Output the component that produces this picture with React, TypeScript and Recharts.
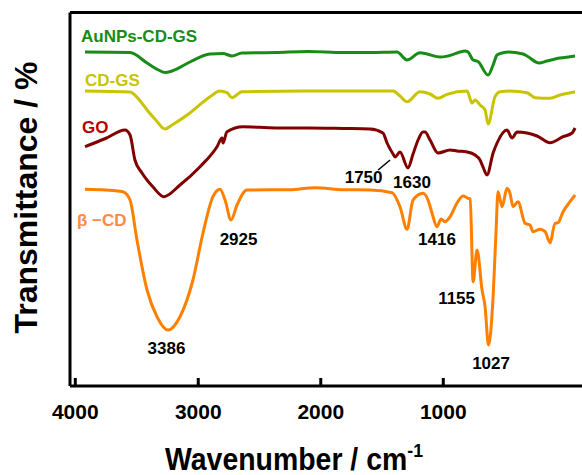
import React from 'react';
import { LineChart, Line, XAxis, YAxis, ReferenceLine, ReferenceDot } from 'recharts';

if (typeof document !== 'undefined') {
  document.body.style.margin = '0';
}

const FONT = '"Liberation Sans", Arial, Helvetica, sans-serif';

// x positions (data wavenumber) of the printed axis ticks, and their labels
const TICK_POS = [4071, 3168, 2268, 1368];
const TICK_LABELS = ['4000', '3000', '2000', '1000'];

// AuNPs-CD-GS
const AU_WN = [4000, 3669, 3544, 3460, 3412, 3360, 3229, 3082, 2986, 2920, 2847, 2600, 2362, 2100, 1906, 1708, 1634, 1539, 1487, 1392, 1333, 1208, 1186, 1149, 1113, 1039, 1002, 973, 929, 892, 782, 753, 665, 606, 510, 437, 400];
const AU_T = [335, 334.5, 324, 317, 314.5, 316, 325, 333, 333.5, 331, 334, 334.5, 335.5, 334.5, 334.5, 335, 327, 334.3, 333, 330, 331, 336, 335, 327, 325.5, 312, 322, 332, 334.3, 335, 333, 331, 324, 326, 329, 330.3, 331];

// CD-GS
const CD_WN = [4000, 3669, 3600, 3544, 3480, 3412, 3360, 3229, 3082, 3008, 2957, 2920, 2847, 2400, 1906, 1737, 1686, 1634, 1539, 1465, 1407, 1340, 1193, 1157, 1135, 1098, 1061, 1039, 988, 951, 878, 753, 694, 584, 510, 400];
const CD_T = [296, 295, 287, 277, 267, 258, 262, 274, 290.3, 296, 294.3, 289.3, 295.3, 296, 296, 296, 291, 285.3, 295.3, 293, 288.7, 292.7, 296, 284, 287, 282, 277, 263, 290.3, 295.3, 296, 294.3, 289.3, 288.7, 292, 295.3];

// GO
const GO_WN = [4000, 3850, 3706, 3669, 3633, 3581, 3500, 3420, 3302, 3155, 3030, 2993, 2986, 2957, 2839, 2600, 2362, 2100, 1906, 1811, 1781, 1737, 1722, 1686, 1627, 1590, 1553, 1517, 1502, 1465, 1407, 1318, 1267, 1193, 1135, 1098, 1076, 1047, 1002, 973, 900, 863, 826, 679, 584, 488, 422, 400];
const GO_T = [240.3, 248.5, 257, 252, 227, 214, 200, 190.3, 202, 220.3, 240.3, 249, 244, 255.3, 260.3, 259, 259, 258.5, 258, 254, 244, 233, 230, 235, 219, 233, 247, 255, 255, 247, 234, 237, 236, 235, 232, 227, 220, 212, 234, 244, 257, 249, 255, 251, 244.3, 250.3, 254, 259];

// beta-CD
const BCD_WN = [4000, 3850, 3721, 3669, 3618, 3544, 3471, 3390, 3302, 3207, 3133, 3060, 3008, 2971, 2927, 2883, 2810, 2500, 2310, 2100, 1906, 1744, 1686, 1634, 1590, 1517, 1480, 1451, 1414, 1384, 1355, 1318, 1267, 1223, 1186, 1170, 1149, 1120, 1083, 1061, 1036, 1002, 980, 966, 936, 900, 878, 856, 819, 767, 731, 709, 657, 620, 584, 547, 525, 488, 437, 400];
const BCD_T = [197.7, 197, 195.3, 187, 147, 97, 70.3, 57, 70.3, 107, 154, 190.3, 197.7, 187, 167, 182, 197, 197.3, 199.3, 197.3, 197, 194.3, 180.3, 157.7, 187, 193.7, 187, 174, 160.3, 168, 165.3, 170.3, 184, 191, 188.7, 188, 105.3, 137, 97, 80.3, 42, 90.3, 157, 195.3, 180.3, 198.7, 193.7, 180.3, 185.3, 163.7, 162, 155.3, 157.7, 155.3, 144.3, 163.7, 164.3, 175.3, 185.3, 192];

const SERIES_NAMES = ['AuNPs-CD-GS', 'CD-GS', 'GO', 'β −CD'];

// peak annotations
const ANNOT_LABELS = ['3386', '2925', '1750', '1630', '1416', '1155', '1027'];
const ANNOT_WN = [3390, 2927, 1744, 1627, 1414, 1149, 1036];
const ANNOT_T = [57, 167, 234, 219, 160.3, 105.3, 42];

const zip = (wn: number[], t: number[]) => wn.map((w, i) => ({ wn: w, t: t[i] }));

const SERIES = [
  { name: SERIES_NAMES[0], data: zip(AU_WN, AU_T), color: '#178c17', labelColor: '#178c17', dx: -4, dy: -10 },
  { name: SERIES_NAMES[1], data: zip(CD_WN, CD_T), color: '#c8c400', labelColor: '#c8c400', dx: 0, dy: -5 },
  { name: SERIES_NAMES[2], data: zip(GO_WN, GO_T), color: '#800000', labelColor: '#b80000', dx: -3, dy: -13.7 },
  { name: SERIES_NAMES[3], data: zip(BCD_WN, BCD_T), color: '#ff8000', labelColor: '#ff8a45', dx: -8, dy: 36.7 },
];

const ANNOT_OFFSETS = [
  { dx: -1.5, dy: 24 },
  { dx: 7.5, dy: 25 },
  { dx: -28.5, dy: 30, leader: true },
  { dx: 4, dy: 20 },
  { dx: 0, dy: 18 },
  { dx: -16.5, dy: 22 },
  { dx: 2.6, dy: 24 },
];

const XTick = (props: any) => {
  const { x, y, payload } = props;
  const idx = TICK_POS.indexOf(payload.value);
  return (
    <g>
      <line x1={x} y1={y} x2={x} y2={y - 8} stroke="#000" strokeWidth={3} />
      <text x={x} y={y + 33} textAnchor="middle" fontFamily={FONT} fontWeight="bold" fontSize={21} fill="#000">
        {TICK_LABELS[idx]}
      </text>
    </g>
  );
};

export default function App() {
  return (
    <div style={{ position: 'relative', width: 582, height: 475 }}>
      <LineChart width={582} height={475} margin={{ top: 12.5, right: 0, left: 69, bottom: 29 }}>
        <XAxis
          type="number"
          dataKey="wn"
          domain={[349, 4110]}
          reversed
          allowDataOverflow
          ticks={TICK_POS}
          interval={0}
          height={60}
          axisLine={{ stroke: '#000', strokeWidth: 3 }}
          tickLine={false}
          tickSize={0}
          tickMargin={0}
          tick={<XTick />}
        />
        <YAxis
          type="number"
          dataKey="t"
          domain={[1, 374.5]}
          allowDataOverflow
          width={1}
          tick={false}
          tickLine={false}
          axisLine={{ stroke: '#000', strokeWidth: 3 }}
        />
        <ReferenceLine y={374.5} stroke="#000" strokeWidth={3} ifOverflow="visible" />
        {SERIES.map((s) => (
          <Line
            key={s.name}
            data={s.data}
            dataKey="t"
            type="monotone"
            stroke={s.color}
            strokeWidth={3}
            dot={false}
            activeDot={false}
            isAnimationActive={false}
          />
        ))}
        {SERIES.map((s) => (
          <ReferenceDot
            key={'lbl-' + s.name}
            x={s.data[0].wn}
            y={s.data[0].t}
            r={0}
            ifOverflow="visible"
            shape={(p: any) => (
              <text x={p.cx + s.dx} y={p.cy + s.dy} fontFamily={FONT} fontWeight="bold" fontSize={17} fill={s.labelColor}>
                {s.name}
              </text>
            )}
          />
        ))}
        {ANNOT_LABELS.map((lab, i) => (
          <ReferenceDot
            key={'ann-' + lab}
            x={ANNOT_WN[i]}
            y={ANNOT_T[i]}
            r={0}
            ifOverflow="visible"
            shape={(p: any) => (
              <g>
                {ANNOT_OFFSETS[i].leader ? (
                  <line x1={p.cx - 14} y1={p.cy + 17} x2={p.cx - 2} y2={p.cy + 7} stroke="#000" strokeWidth={1.5} />
                ) : null}
                <text
                  x={p.cx + ANNOT_OFFSETS[i].dx}
                  y={p.cy + ANNOT_OFFSETS[i].dy}
                  textAnchor="middle"
                  fontFamily={FONT}
                  fontWeight="bold"
                  fontSize={17}
                  fill="#000"
                >
                  {lab}
                </text>
              </g>
            )}
          />
        ))}
      </LineChart>
      <svg
        width={582}
        height={475}
        style={{ position: 'absolute', left: 0, top: 0, pointerEvents: 'none' }}
      >
        <text
          transform="translate(37,197.5) rotate(-90)"
          textAnchor="middle"
          fontFamily={FONT}
          fontWeight="bold"
          fontSize={32}
          fill="#000"
        >
          Transmittance / %
        </text>
        <text
          x={165}
          y={470}
          fontFamily={FONT}
          fontWeight="bold"
          fontSize={30.5}
          fill="#000"
          textLength={258}
          lengthAdjust="spacingAndGlyphs"
        >
          Wavenumber / cm
          <tspan fontSize={19} dy={-13.5}>-1</tspan>
        </text>
      </svg>
    </div>
  );
}
